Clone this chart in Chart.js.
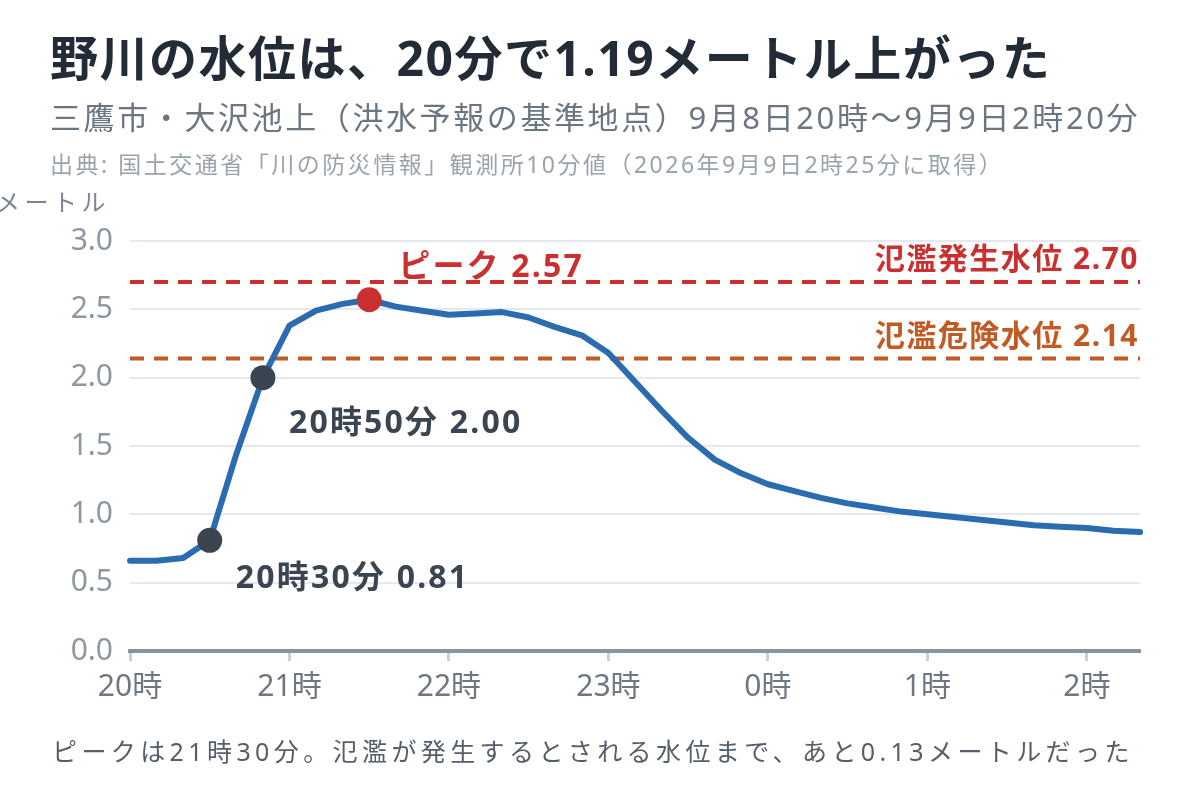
<!DOCTYPE html>
<html lang="ja">
<head>
<meta charset="utf-8">
<script src="https://cdn.jsdelivr.net/npm/chart.js@4.4.1/dist/chart.umd.min.js"></script>
<style>
  body { margin: 0; background: #fff; font-family: "Noto Sans", "Noto Sans CJK JP", sans-serif; }
  #wrap { position: relative; width: 1200px; height: 800px; overflow: hidden; }
  #chart { position: absolute; left: 0; top: 0; }
  .txt { position: absolute; line-height: 1; white-space: nowrap; }
  #title { left: 50px; top: 34px; font-size: 48px; font-weight: 700; color: #222b36; letter-spacing: 1.5px; }
  #sub { left: 50px; top: 102px; font-size: 31px; color: #6b7682; letter-spacing: 2.6px; }
  #src { left: 50px; top: 153px; font-size: 23px; color: #9aa3ad; letter-spacing: 2.5px; }
  #unit { left: -4px; top: 190px; font-size: 24px; color: #7b858f; letter-spacing: 4.5px; }
  #note { left: 52px; top: 739px; font-size: 25px; color: #555f6a; letter-spacing: 4.4px; }
</style>
</head>
<body>
<div id="wrap">
  <canvas id="chart" width="1200" height="800"></canvas>
  <div class="txt" id="title">野川の水位は、20分で1.19メートル上がった</div>
  <div class="txt" id="sub">三鷹市・大沢池上（洪水予報の基準地点）9月8日20時～9月9日2時20分</div>
  <div class="txt" id="src">出典: 国土交通省「川の防災情報」観測所10分値（2026年9月9日2時25分に取得）</div>
  <div class="txt" id="unit">メートル</div>
  <div class="txt" id="note">ピークは21時30分。氾濫が発生するとされる水位まで、あと0.13メートルだった</div>
</div>
<script>
//観測時刻（10分ごと）
const times = ["20:00","20:10","20:20","20:30","20:40","20:50",
  "21:00","21:10","21:20","21:30","21:40","21:50",
  "22:00","22:10","22:20","22:30","22:40","22:50",
  "23:00","23:10","23:20","23:30","23:40","23:50",
  "0:00","0:10","0:20","0:30","0:40","0:50",
  "1:00","1:10","1:20","1:30","1:40","1:50",
  "2:00","2:10","2:20"]
//水位（メートル）
const levels = [0.66,0.66,0.68,0.81,1.44,2.00,
  2.38,2.49,2.54,2.57,2.52,2.49,
  2.46,2.47,2.48,2.44,2.37,2.31,
  2.18,1.97,1.76,1.56,1.40,1.30,
  1.22,1.17,1.12,1.08,1.05,1.02,
  1.00,0.98,0.96,0.94,0.92,0.91,
  0.90,0.88,0.87]
//Y軸の目盛り
const yTicks = [0, 0.5, 1.0, 1.5, 2.0, 2.5, 3.0]
//基準水位
const lineValues = [2.70, 2.14]
const lineNames = ["氾濫発生水位", "氾濫危険水位"]
const lineColors = ["#c9302f", "#c25a24"]
//注目する時刻
const markTimes = ["20:30", "20:50", "21:30"]
const markNames = ["20時30分", "20時50分", "ピーク"]

const markIdx = markTimes.map(t => times.indexOf(t))
const peakIdx = markIdx[2]
const dark = "#3b4451"
const red = "#c9302f"
const font = '"Noto Sans", "Noto Sans CJK JP", sans-serif'

//基準線と注記を描くプラグイン
const notes = {
  id: "notes",
  beforeDatasetsDraw(chart) {
    const {ctx, chartArea, scales} = chart
    ctx.save()
    lineValues.forEach((v, i) => {
      const y = scales.y.getPixelForValue(v)
      ctx.strokeStyle = lineColors[i]
      ctx.lineWidth = 4
      ctx.setLineDash([14, 10])
      ctx.beginPath()
      ctx.moveTo(chartArea.left, y)
      ctx.lineTo(chartArea.right, y)
      ctx.stroke()
      ctx.setLineDash([])
      ctx.fillStyle = lineColors[i]
      ctx.font = "700 30px " + font
      ctx.letterSpacing = "1.5px"
      ctx.textAlign = "right"
      ctx.textBaseline = "alphabetic"
      ctx.fillText(lineNames[i] + " " + v.toFixed(2), chartArea.right - 1, y - 13)
    })
    ctx.restore()
  },
  afterDatasetsDraw(chart) {
    const {ctx, scales} = chart
    ctx.save()
    ctx.font = "700 32px " + font
    ctx.letterSpacing = "2.2px"
    ctx.textAlign = "left"
    ctx.textBaseline = "alphabetic"
    markIdx.forEach((idx, i) => {
      const x = scales.x.getPixelForValue(idx)
      const y = scales.y.getPixelForValue(levels[idx])
      const txt = markNames[i] + " " + levels[idx].toFixed(2)
      if (idx === peakIdx) {
        ctx.fillStyle = red
        ctx.fillText(txt, x + 29, y - 23)
      } else {
        ctx.fillStyle = dark
        ctx.fillText(txt, x + 26, y + (i === 0 ? 48 : 55))
      }
    })
    ctx.restore()
  }
}

const ctx = document.getElementById("chart").getContext("2d")
new Chart(ctx, {
  type: "line",
  data: {
    labels: times,
    datasets: [{
      data: levels,
      borderColor: "#2b6cb0",
      borderWidth: 6,
      borderJoinStyle: "round",
      borderCapStyle: "round",
      pointRadius: 0,
      tension: 0,
      order: 2
    }, {
      data: levels.map((v, i) => markIdx.includes(i) ? v : null),
      showLine: false,
      pointRadius: 12.5,
      pointBorderWidth: 0,
      pointBackgroundColor: c => c.dataIndex === peakIdx ? red : dark,
      order: 1
    }]
  },
  options: {
    responsive: false,
    animation: false,
    layout: { padding: { top: 241, left: 0, right: 60, bottom: 0 } },
    plugins: { legend: { display: false }, tooltip: { enabled: false } },
    scales: {
      x: {
        afterFit: s => { s.height = 149 },
        border: { color: "#8a949e", width: 4 },
        grid: {
          drawOnChartArea: false,
          tickLength: 10,
          tickWidth: 3,
          tickColor: c => (c.tick && times[c.tick.value].endsWith(":00")) ? "#c8d0d8" : "rgba(0,0,0,0)"
        },
        ticks: {
          autoSkip: false,
          maxRotation: 0,
          padding: 8,
          color: "#6e7782",
          font: { family: font, size: 30 },
          callback: (v, i) => times[i].endsWith(":00") ? times[i].split(":")[0] + "時" : ""
        }
      },
      y: {
        min: yTicks[0],
        max: yTicks[yTicks.length - 1],
        afterFit: s => { s.width = 130 },
        afterBuildTicks: s => { s.ticks = yTicks.map(v => ({ value: v })) },
        border: { display: false },
        grid: { color: "#e5e9ee", lineWidth: 2, drawTicks: false },
        ticks: {
          padding: 17,
          color: "#8e98a3",
          font: { family: font, size: 30 },
          callback: v => v.toFixed(1)
        }
      }
    }
  },
  plugins: [notes]
})
</script>
</body>
</html>
